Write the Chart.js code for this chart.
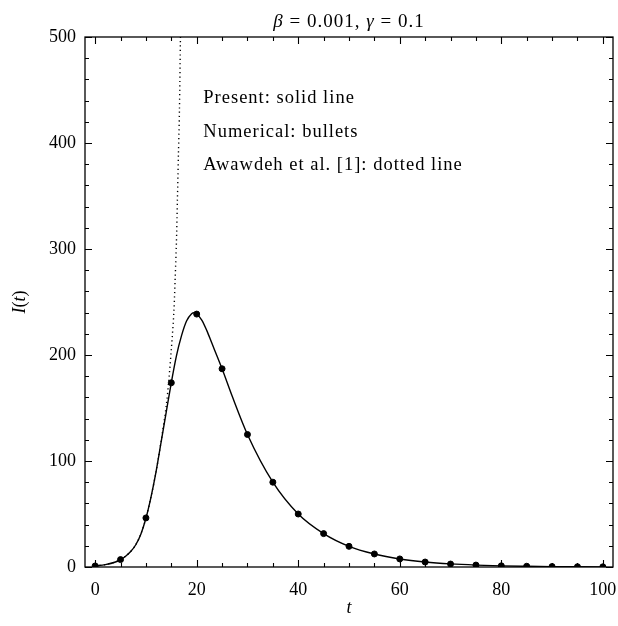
<!DOCTYPE html>
<html>
<head>
<meta charset="utf-8">
<script src="https://cdn.jsdelivr.net/npm/chart.js@4"></script>
<style>
html,body{margin:0;padding:0;background:#fff;}
#wrap{width:618px;height:626px;position:relative;}
</style>
</head>
<body>
<div id="wrap"><canvas id="c" width="618" height="626"></canvas></div>
<script>
// Solid line (present method)
const tSolid = [0,2,4,5,6,7,8,9,10,11,12,13,14,15,16,17,18,19,19.5,20,21,22,23,24,25,27,30,35,40,45,50,55,60,65,70,75,80,85,90,95,100];
const iSolid = [1,2.2,4.7,7,10.2,14.6,21,31,46,66,90,118,146,174,199,218,232,239,240,238.6,233,223,211,199,187,161,125,80,50,31.5,19.5,12.3,7.6,4.7,2.9,1.8,1.1,0.7,0.4,0.25,0.15];
// Numerical bullets
const tBullets = [0,5,10,15,20,25,30,35,40,45,50,55,60,65,70,75,80,85,90,95,100];
const iBullets = [1,7,46.3,173.8,238.6,187,125,80,50,31.5,19.5,12.3,7.6,4.7,2.8,1.8,1.1,0.7,0.4,0.25,0.15];
// Awawdeh et al. [1] dotted line
const tDotted = [0,2,4,5,6,7,8,9,10,11,12,13,14,14.5,15,15.5,15.75,16,16.2,16.4,16.6,16.8];
const iDotted = [1,2.2,4.7,7,10.2,14.6,21,31,46,66,90,119,152,176,205,240,271,305,346,389,430,500];
// Axis ticks
const xTicksMajor = [0,20,40,60,80,100];
const yTicksMajor = [0,100,200,300,400,500];
const notes = ["Present: solid line","Numerical: bullets","Awawdeh et al. [1]: dotted line"];
const noteX = 21.3;
const noteY = [442.6,410.5,379];

const FONT = '"Liberation Serif", "Times New Roman", serif';
const toXY = (xs, ys) => xs.map((x,i)=>({x:x,y:ys[i]}));

const framePlugin = {
  id:'frame',
  afterDraw(chart){
    const ctx = chart.ctx, a = chart.chartArea;
    const xs = chart.scales.x, ys = chart.scales.y;
    ctx.save();
    ctx.strokeStyle = '#000';
    ctx.lineWidth = 1.3;
    ctx.strokeRect(a.left, a.top, a.right-a.left, a.bottom-a.top);
    ctx.lineWidth = 1.1;
    ctx.beginPath();
    for(let v=0; v<=100; v+=5){
      const p = Math.round(xs.getPixelForValue(v))+0.5;
      const L = (v%20===0)?7:4;
      ctx.moveTo(p,a.bottom); ctx.lineTo(p,a.bottom-L);
      ctx.moveTo(p,a.top); ctx.lineTo(p,a.top+L);
    }
    for(let v=0; v<=500; v+=20){
      const p = Math.round(ys.getPixelForValue(v))+0.5;
      const L = (v%100===0)?7:4;
      ctx.moveTo(a.left,p); ctx.lineTo(a.left+L,p);
      ctx.moveTo(a.right,p); ctx.lineTo(a.right-L,p);
    }
    ctx.stroke();
    // notes
    ctx.fillStyle='#000';
    ctx.font = '18.5px '+FONT;
    ctx.letterSpacing = '1px';
    ctx.textBaseline='middle';
    ctx.textAlign='left';
    notes.forEach((n,i)=>{
      ctx.fillText(n, xs.getPixelForValue(noteX), ys.getPixelForValue(noteY[i]));
    });
    // title with italic symbols
    const parts = [['β',true],[' = 0.001, ',false],['γ',true],[' = 0.1',false]];
    const tf = '19px '+FONT;
    let w = 0;
    parts.forEach(p=>{ ctx.font=(p[1]?'italic ':'')+tf; w+=ctx.measureText(p[0]).width; });
    let x = (a.left+a.right)/2 - w/2;
    parts.forEach(p=>{ ctx.font=(p[1]?'italic ':'')+tf; ctx.fillText(p[0], x, 22); x+=ctx.measureText(p[0]).width; });
    ctx.letterSpacing = '0px';
    // x label
    ctx.font='italic 18px '+FONT;
    ctx.textAlign='center';
    ctx.fillText('t', (a.left+a.right)/2, 608);
    // y label
    ctx.save();
    ctx.translate(20,(a.top+a.bottom)/2);
    ctx.rotate(-Math.PI/2);
    const yp = [['I',true],['(',false],['t',true],[')',false]];
    let yw=0;
    yp.forEach(p=>{ ctx.font=(p[1]?'italic ':'')+'18px '+FONT; yw+=ctx.measureText(p[0]).width; });
    let yx=-yw/2;
    ctx.textAlign='left';
    yp.forEach(p=>{ ctx.font=(p[1]?'italic ':'')+'18px '+FONT; ctx.fillText(p[0], yx, 0); yx+=ctx.measureText(p[0]).width; });
    ctx.restore();
    ctx.restore();
  }
};

new Chart(document.getElementById('c'),{
  type:'line',
  data:{
    datasets:[
      {label:'Awawdeh', data:toXY(tDotted,iDotted), borderColor:'#000', borderWidth:1.4, borderDash:[1.2,3.2], pointRadius:0, fill:false, tension:0.3, order:3},
      {label:'Present', data:toXY(tSolid,iSolid), borderColor:'#000', borderWidth:1.4, pointRadius:0, fill:false, cubicInterpolationMode:'monotone', order:2},
      {label:'Numerical', type:'scatter', data:toXY(tBullets,iBullets), backgroundColor:'#000', borderColor:'#000', pointRadius:3, pointHoverRadius:3, showLine:false, order:1}
    ]
  },
  options:{
    responsive:false,
    animation:false,
    events:[],
    layout:{padding:{left:0,right:5,top:37,bottom:0}},
    plugins:{legend:{display:false}, tooltip:{enabled:false}, title:{display:false}},
    scales:{
      x:{
        type:'linear', min:-2, max:102,
        grid:{display:false, drawTicks:false},
        border:{display:false},
        ticks:{stepSize:20, includeBounds:false, color:'#000', font:{family:FONT,size:18}, padding:12, maxRotation:0,
          callback:(v)=> xTicksMajor.includes(v)? String(v):''},
        afterFit(s){ s.height = 59; s.paddingLeft = 0; s.paddingRight = 0; }
      },
      y:{
        type:'linear', min:0, max:500,
        grid:{display:false, drawTicks:false},
        border:{display:false},
        ticks:{stepSize:100, includeBounds:false, color:'#000', font:{family:FONT,size:18}, padding:9,
          callback:(v)=> yTicksMajor.includes(v)? String(v):''},
        afterFit(s){ s.width = 85; s.paddingTop = 0; s.paddingBottom = 0; }
      }
    }
  },
  plugins:[framePlugin]
});
</script>
</body>
</html>
